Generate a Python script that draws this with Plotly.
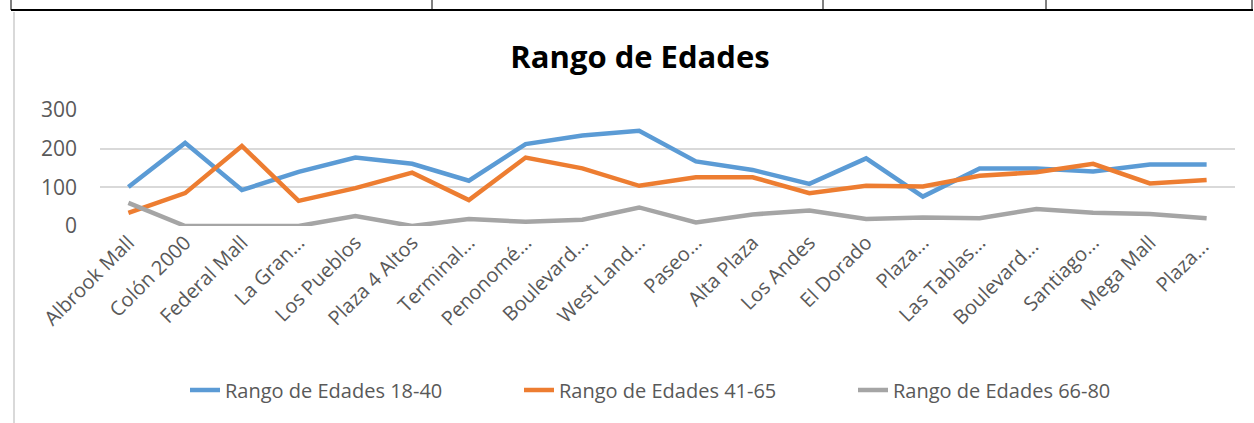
import plotly.graph_objects as go

categories = ["Albrook Mall", "Colón 2000", "Federal Mall", "La Gran...", "Los Pueblos",
              "Plaza 4 Altos", "Terminal...", "Penonomé...", "Boulevard...", "West Land...",
              "Paseo...", "Alta Plaza", "Los Andes", "El Dorado", "Plaza...",
              "Las Tablas...", "Boulevard... ", "Santiago...", "Mega Mall", "Plaza... "]
serie_18_40 = [101, 215, 93, 140, 177, 161, 117, 212, 234, 246, 167, 145, 109, 175, 76, 149, 149, 141, 159, 159]
serie_41_65 = [34, 85, 207, 65, 98, 138, 67, 177, 149, 104, 126, 126, 85, 104, 102, 130, 139, 161, 110, 119]
serie_66_80 = [60, 0, 0, 0, 26, 0, 18, 11, 16, 48, 9, 30, 40, 18, 22, 20, 44, 34, 31, 20]
series_names = ["Rango de Edades 18-40", "Rango de Edades 41-65", "Rango de Edades 66-80"]
colors = ["#5B9BD5", "#ED7D31", "#A5A5A5"]

W, H = 1254, 423
L, R, T, B = 100, 19, 110, 197
pw, ph = W - L - R, H - T - B

def px(x):
    return (x - L) / pw

def py(y):
    return (H - B - y) / ph

fig = go.Figure()
for name, vals, c in zip(series_names, [serie_18_40, serie_41_65, serie_66_80], colors):
    fig.add_trace(go.Scatter(x=categories, y=vals, mode="lines", name=name,
                             line=dict(color=c, width=4.5)))

font = "'Open Sans', sans-serif"
shapes = []
# table border lines at the top of the page
shapes.append(dict(type="line", xref="paper", yref="paper", x0=px(11), x1=px(1253), y0=py(10), y1=py(10),
                   line=dict(color="black", width=2)))
for xv in [11, 432, 823, 1046, 1252]:
    shapes.append(dict(type="line", xref="paper", yref="paper", x0=px(xv), x1=px(xv), y0=py(0), y1=py(10),
                       line=dict(color="black", width=1)))
# chart frame left edge
shapes.append(dict(type="line", xref="paper", yref="paper", x0=px(14), x1=px(14), y0=py(12), y1=py(423),
                   line=dict(color="#d9d9d9", width=2)))

fig.update_layout(
    width=W, height=H,
    margin=dict(l=L, r=R, t=T, b=B),
    paper_bgcolor="white", plot_bgcolor="white",
    title=dict(text="<b>Rango de Edades</b>", x=640 / W, xanchor="center", y=1 - 57 / H, yanchor="middle",
               yref="container", xref="container",
               font=dict(family=font, size=31, color="black")),
    xaxis=dict(type="category", range=[-0.5, len(categories) - 0.5], showgrid=False, showline=False,
               zeroline=False, tickangle=-45, ticks="",
               tickfont=dict(family=font, size=20, color="#595959")),
    yaxis=dict(range=[0, 300], dtick=100, showgrid=True, gridcolor="#d9d9d9", gridwidth=1.5,
               zeroline=False, showline=False, ticks="", ticklabelstandoff=22,
               tickfont=dict(family=font, size=21, color="#595959")),
    legend=dict(orientation="h", x=px(185), xanchor="left", y=py(390), yanchor="middle",
                font=dict(family=font, size=20, color="#595959"), entrywidth=289),
    shapes=shapes,
    showlegend=True,
)

fig.write_html("out.html", config={"displayModeBar": False},
               post_script="document.body.style.margin='0';")
